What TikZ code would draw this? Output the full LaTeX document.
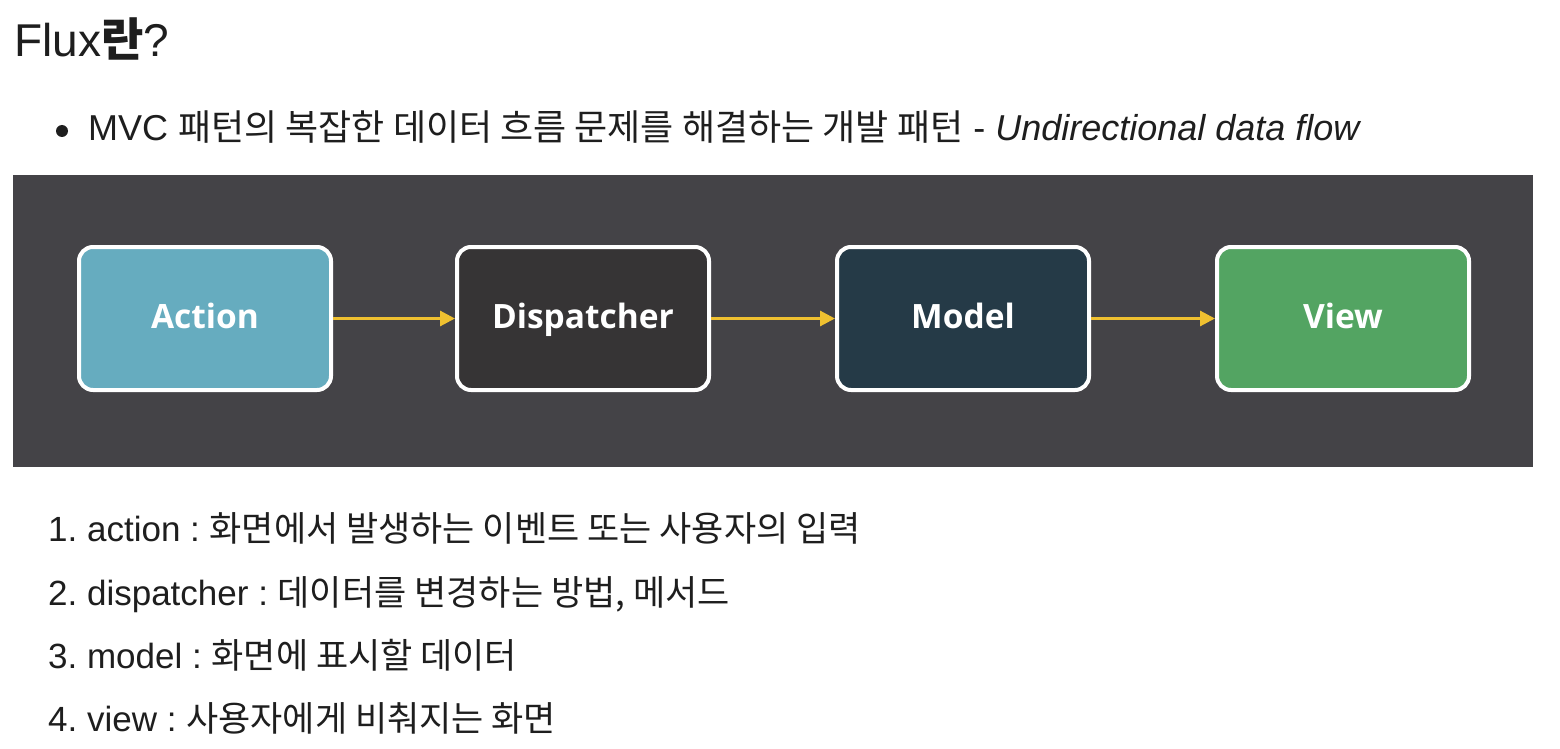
\documentclass[tikz,border=0pt]{standalone}
\usepackage{fontspec}
\setmainfont{Liberation Sans}
\newfontfamily\kr{Noto Sans CJK KR}
\newfontfamily\boxf{Open Sans}
\usetikzlibrary{arrows.meta}
\definecolor{panel}{HTML}{444347}
\definecolor{actionc}{HTML}{66ACBF}
\definecolor{dispc}{HTML}{363435}
\definecolor{modelc}{HTML}{253A47}
\definecolor{viewc}{HTML}{53A462}
\definecolor{arrc}{HTML}{EFC030}
\definecolor{txt}{HTML}{1E1E1E}
\tikzset{
  flowbox/.style={draw=white, line width=4pt, rounded corners=14pt,
    minimum width=252pt, minimum height=143pt, text=white,
    text height=26pt, text depth=7pt,
    font=\boxf\bfseries\fontsize{33.5}{40}\selectfont},
  flowarr/.style={draw=arrc, line width=3pt, -{Triangle[length=15pt,width=15pt]}},
  linetext/.style={anchor=base west, inner sep=0pt, text=txt},
  listtext/.style={linetext, font=\fontsize{35}{40}\selectfont},
}
\begin{document}
\begin{tikzpicture}[x=1pt,y=-1pt]
\frenchspacing
\useasboundingbox[fill=white] (0,0) rectangle (1560,749);
\node[linetext, font=\fontsize{46}{54}\selectfont] (title) at (14,57) {Flux{\kr\bfseries 란}?};
\fill[txt] (62,131) circle (6pt);
\node[linetext, font=\fontsize{36}{44}\selectfont] (bullet) at (88,141)
  {MVC {\kr 패턴의 복잡한 데이터 흐름 문제를 해결하는 개발 패턴} - \textit{Undirectional data flow}};
\fill[panel] (13,175) rectangle (1533,467);
\node[flowbox, fill=actionc] (action) at (205,318.5) {Action};
\node[flowbox, fill=dispc] (disp) at (583,318.5) {Dispatcher};
\node[flowbox, fill=modelc] (model) at (963,318.5) {Model};
\node[flowbox, fill=viewc] (view) at (1343,318.5) {View};
\draw[flowarr] (action) -- (disp);
\draw[flowarr] (disp) -- (model);
\draw[flowarr] (model) -- (view);
\node[listtext] (l1) at (48,541) {1. action : {\kr 화면에서 발생하는 이벤트 또는 사용자의 입력}};
\node[listtext] (l2) at (48,605) {2. dispatcher : {\kr 데이터를 변경하는 방법, 메서드}};
\node[listtext] (l3) at (48,668) {3. model : {\kr 화면에 표시할 데이터}};
\node[listtext] (l4) at (48,731) {4. view : {\kr 사용자에게 비춰지는 화면}};
\end{tikzpicture}
\end{document}
